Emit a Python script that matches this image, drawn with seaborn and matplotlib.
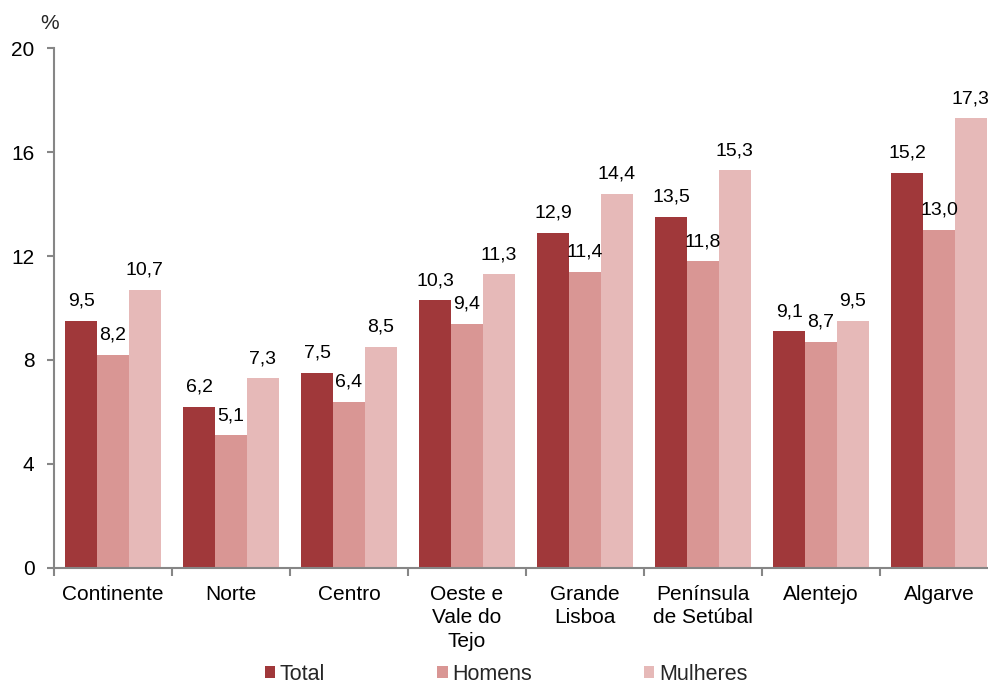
import numpy as np
import pandas as pd
import matplotlib
matplotlib.use("Agg")
import matplotlib.pyplot as plt
import seaborn as sns
from matplotlib.patches import Patch

regioes = ["Continente", "Norte", "Centro", "Oeste e\nVale do\nTejo", "Grande\nLisboa",
           "Península\nde Setúbal", "Alentejo", "Algarve"]
total = [9.5, 6.2, 7.5, 10.3, 12.9, 13.5, 9.1, 15.2]
homens = [8.2, 5.1, 6.4, 9.4, 11.4, 11.8, 8.7, 13.0]
mulheres = [10.7, 7.3, 8.5, 11.3, 14.4, 15.3, 9.5, 17.3]
series = ["Total", "Homens", "Mulheres"]
cores = ["#A0383A", "#D99694", "#E6B9B8"]

df = pd.DataFrame({"regiao": regioes * 3,
                   "serie": np.repeat(series, len(regioes)),
                   "valor": total + homens + mulheres})

sns.set_theme(style="ticks")
plt.rcParams["font.family"] = ["Liberation Sans", "DejaVu Sans"]
cinza = "#868686"

fig = plt.figure(figsize=(9.88, 6.83), dpi=100)
ax = fig.add_axes([0.0547, 0.1684, 0.9555, 0.7613])

sns.barplot(data=df, x="regiao", y="valor", hue="serie", hue_order=series,
            palette=cores, width=0.81, gap=0, saturation=1, linewidth=0,
            legend=False, ax=ax)

for cont in ax.containers:
    ax.bar_label(cont, labels=[f"{v:.1f}".replace(".", ",") for v in cont.datavalues],
                 padding=8, fontsize=14, color="black")

ax.set_ylim(0, 20)
ax.set_yticks([0, 4, 8, 12, 16, 20])
ax.set_xlim(-0.5, 7.5)
ax.set_xlabel("")
ax.set_ylabel("")
ax.tick_params(axis="y", labelsize=15, length=5, color=cinza, pad=9, labelcolor="black", width=1.5)
ax.tick_params(axis="x", which="major", labelsize=15, length=0, pad=12, labelcolor="black")
ax.set_xticks(np.arange(-0.5, 8.0, 1.0), minor=True)
ax.tick_params(axis="x", which="minor", length=6, color=cinza, width=1.5)
for lab in ax.get_xticklabels():
    lab.set_linespacing(1.3)
for s in ["top", "right"]:
    ax.spines[s].set_visible(False)
for s in ["left", "bottom"]:
    ax.spines[s].set_color(cinza)
    ax.spines[s].set_linewidth(1.5)

fig.text(0.05, 0.966, "%", fontsize=15, ha="center", va="center")

handles = [Patch(facecolor=c, edgecolor="none") for c in cores]
fig.legend(handles, series, loc="center", bbox_to_anchor=(0.512, 0.013), ncol=3,
           frameon=False, fontsize=15.5, handlelength=0.5, handleheight=0.5,
           handletextpad=0.2, columnspacing=5.2, borderpad=0)

fig.savefig("out.png", dpi=100)
